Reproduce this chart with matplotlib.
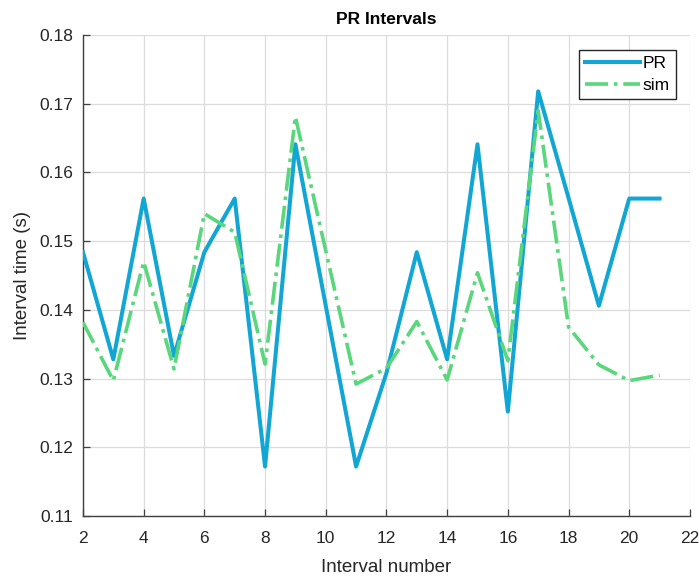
import numpy as np
import matplotlib.pyplot as plt

plt.rcParams['font.family'] = ['Liberation Sans', 'DejaVu Sans']

interval = list(range(2, 22))
pr = [0.1484, 0.1328, 0.1562, 0.1333, 0.1484, 0.1562, 0.1172, 0.1641, 0.1406, 0.1172,
      0.1308, 0.1484, 0.1328, 0.1641, 0.1252, 0.1718, 0.1563, 0.1406, 0.1562, 0.1562]
sim = [0.1382, 0.1297, 0.1470, 0.1314, 0.1540, 0.1513, 0.1321, 0.1681, 0.1486, 0.1292,
       0.1315, 0.1383, 0.1298, 0.1454, 0.1326, 0.1690, 0.1375, 0.1320, 0.1297, 0.1305]

fig = plt.figure(figsize=(6.99, 5.77), dpi=100)
ax = fig.add_axes([0.1187, 0.1057, 0.8683, 0.8336])

ax.plot(interval, pr, color='#12a6d4', lw=2.9, label='PR', zorder=3)
ax.plot(interval, sim, color='#5ad67c', lw=2.6, ls='-.', label='sim', zorder=3)

ax.set_xlim(2, 22)
ax.set_ylim(0.11, 0.18)
ax.set_xticks(np.arange(2, 23, 2))
ax.set_yticks([0.11, 0.12, 0.13, 0.14, 0.15, 0.16, 0.17, 0.18])
ax.set_yticklabels(['0.11', '0.12', '0.13', '0.14', '0.15', '0.16', '0.17', '0.18'])
ax.grid(True, color='#dcdcdc', lw=0.9)
ax.set_axisbelow(True)
ax.spines['top'].set_visible(False)
ax.spines['right'].set_visible(False)
for s in ['left', 'bottom']:
    ax.spines[s].set_color('#404040')
    ax.spines[s].set_linewidth(1.0)
ax.tick_params(direction='in', length=5, width=0.9, color='#404040',
               labelsize=12.5, labelcolor='#262626')
ax.tick_params(axis='x', pad=11)
ax.tick_params(axis='y', pad=7)

ax.set_title('PR Intervals', fontsize=12.5, fontweight='bold', color='black', pad=8)
ax.set_xlabel('Interval number', fontsize=13.5, color='#262626', labelpad=9)
ax.set_ylabel('Interval time (s)', fontsize=13.5, color='#262626', labelpad=6)

leg = ax.legend(loc='upper right', bbox_to_anchor=(0.977, 0.969), fontsize=12.5,
                handlelength=3.2, handletextpad=0.15, borderpad=0.35, labelspacing=0.4,
                fancybox=False, framealpha=1, edgecolor='#262626', borderaxespad=0)
leg.get_frame().set_linewidth(1.0)

fig.savefig('out.png', dpi=100)
